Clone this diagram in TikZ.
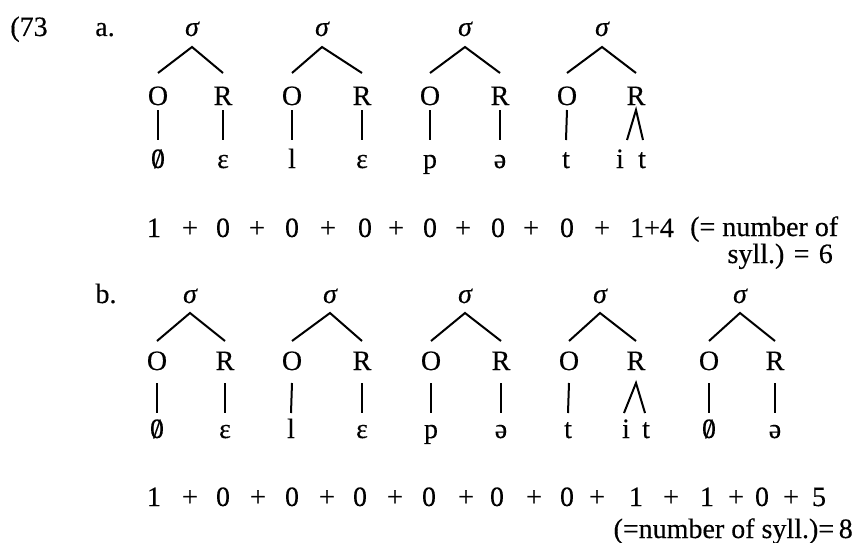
\documentclass[tikz,border=0pt]{standalone}
\usepackage{fontspec}
\setmainfont{Liberation Serif}[FakeBold=0.35]
\newcommand\slashzero{\ooalign{0\cr\hidewidth/\hidewidth\cr}}
\tikzset{
  txt/.style={font=\fontsize{28}{32}\selectfont, inner sep=0pt, anchor=base},
  ln/.style={line width=2pt},
}
\begin{document}
\begin{tikzpicture}[x=1pt,y=-1pt]
\useasboundingbox (0,0) rectangle (854,543);
% ---------------- part a ----------------
\begin{scope}[
  sig/.style={txt, font=\fontsize{28}{32}\selectfont\itshape, text depth=0pt, outer ysep=11pt},
  orn/.style={txt, text height=27pt, text depth=0pt, outer ysep=5pt},
  leaf/.style={txt, text height=28pt, text depth=0pt, outer ysep=0pt}]
\node[txt] (num) at (29,36) {(73};
\node[txt] (la) at (105,36) {a.};
% trees
\node[sig] (sa1) at (192,36) {σ};
\node[sig] (sa2) at (322,36) {σ};
\node[sig] (sa3) at (465,36) {σ};
\node[sig] (sa4) at (602,36) {σ};
\node[orn] (oa1) at (158,105) {O};
\node[orn] (ra1) at (223,105) {R};
\node[orn] (oa2) at (292,105) {O};
\node[orn] (ra2) at (362,105) {R};
\node[orn] (oa3) at (430,105) {O};
\node[orn] (ra3) at (500,105) {R};
\node[orn] (oa4) at (567,105) {O};
\node[orn] (ra4) at (636,105) {R};
\node[leaf] (xa1) at (158,168) {\slashzero};
\node[leaf] (ya1) at (223,168) {ε};
\node[leaf] (xa2) at (292,168) {l};
\node[leaf] (ya2) at (362,168) {ε};
\node[leaf] (xa3) at (430,168) {p};
\node[leaf] (ya3) at (500,168) {ə};
\node[leaf] (xa4) at (566,168) {t};
\node[leaf] (ia4) at (620,168) {i};
\node[leaf] (ta4) at (642,168) {t};
\coordinate (fa1) at (627,140);
\coordinate (fa2) at (643,140);
\foreach \k in {1,2,3,4}{
  \draw[ln] (oa\k.north) -- (sa\k.south) -- (ra\k.north);
  \draw[ln] (oa\k.south) -- (xa\k.north);
}
\foreach \k in {1,2,3}{\draw[ln] (ra\k.south) -- (ya\k.north);}
\draw[ln] (fa1) -- (ra4.south) -- (fa2);
% sum line
\foreach \x/\t [count=\k] in {154/1,190/+,223/0,257/+,292/0,328/+,365/0,396/+,430/0,463/+,498/0,531/+,567/0,602/+,652/1+4}
  \node[txt] (na\k) at (\x,237) {\t};
\node[txt,anchor=base west,text depth=0pt] (nta) at (690,236) {(= number of};
\node[txt,anchor=base east,text height=18pt] (ntb) at (833,263) {syll.)\,\,=\,\,6};
\end{scope}
% ---------------- part b ----------------
\begin{scope}[
  sig/.style={txt, font=\fontsize{28}{32}\selectfont\itshape, text depth=0pt, outer ysep=10pt},
  orn/.style={txt, text height=16pt, text depth=0pt, outer ysep=13pt},
  leaf/.style={txt, text height=25pt, text depth=0pt, outer ysep=0pt}]
\node[txt] (lb) at (106,303) {b.};
\node[sig] (sb1) at (190,303) {σ};
\node[sig] (sb2) at (330,303) {σ};
\node[sig] (sb3) at (465,303) {σ};
\node[sig] (sb4) at (600,303) {σ};
\node[sig] (sb5) at (740,303) {σ};
\node[orn] (ob1) at (157,370) {O};
\node[orn] (rb1) at (225,370) {R};
\node[orn] (ob2) at (292,370) {O};
\node[orn] (rb2) at (362,370) {R};
\node[orn] (ob3) at (431,370) {O};
\node[orn] (rb3) at (501,370) {R};
\node[orn] (ob4) at (569,370) {O};
\node[orn] (rb4) at (636,370) {R};
\node[orn] (ob5) at (709,370) {O};
\node[orn] (rb5) at (775,370) {R};
\node[leaf] (xb1) at (157,438) {\slashzero};
\node[leaf] (yb1) at (225,438) {ε};
\node[leaf] (xb2) at (291,438) {l};
\node[leaf] (yb2) at (362,438) {ε};
\node[leaf] (xb3) at (431,438) {p};
\node[leaf] (yb3) at (501,438) {ə};
\node[leaf] (xb4) at (568,438) {t};
\node[leaf] (ib4) at (626,438) {i};
\node[leaf] (tb4) at (646,438) {t};
\node[leaf] (xb5) at (709,438) {\slashzero};
\node[leaf] (yb5) at (775,438) {ə};
\coordinate (fb1) at (624,413);
\coordinate (fb2) at (645,413);
\foreach \k in {1,2,3,4,5}{
  \draw[ln] (ob\k.north) -- (sb\k.south) -- (rb\k.north);
  \draw[ln] (ob\k.south) -- (xb\k.north);
}
\foreach \k in {1,2,3,5}{\draw[ln] (rb\k.south) -- (yb\k.north);}
\draw[ln] (fb1) -- (rb4.south) -- (fb2);
% sum line
\foreach \x/\t [count=\k] in {154/1,190/+,223/0,258/+,292/0,327/+,360/0,395/+,429/0,466/+,497/0,534/+,567/0,597/+,636/1,671/+,707/1,736/+,762/0,791/+,819/5}
  \node[txt] (nb\k) at (\x,506) {\t};
\node[txt,anchor=base east] (ntc) at (853,538) {(=number of syll.)=\,8};
\end{scope}
\end{tikzpicture}
\end{document}
